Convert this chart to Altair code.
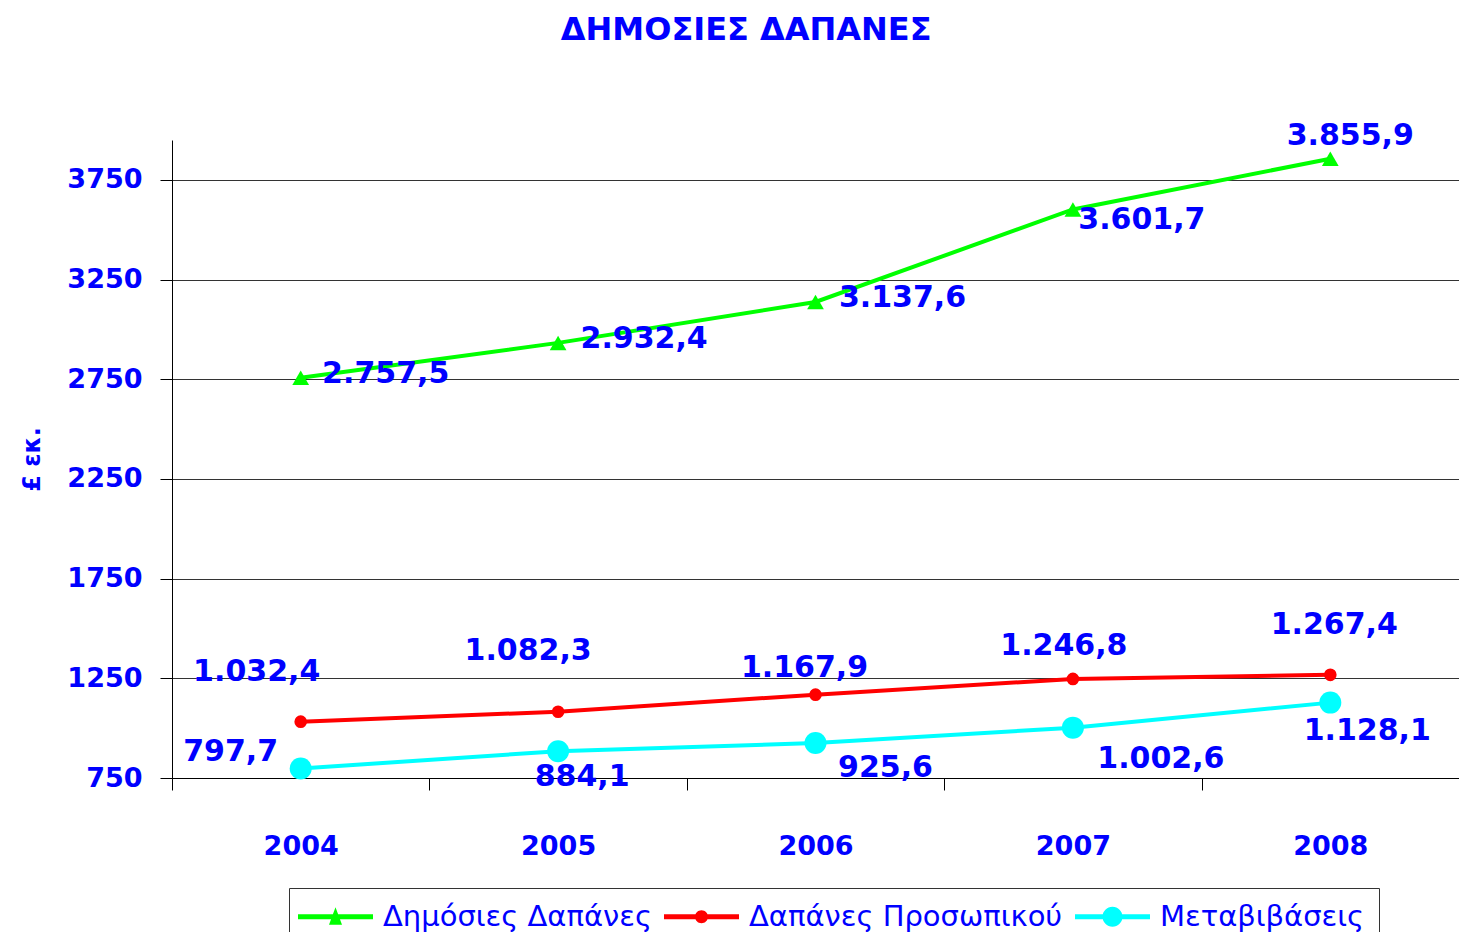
import altair as alt
import pandas as pd

# ---- data ----
years = ["2004", "2005", "2006", "2007", "2008"]
series = ["Δημόσιες Δαπάνες", "Δαπάνες Προσωπικού", "Μεταβιβάσεις"]
public_spending = [2757.5, 2932.4, 3137.6, 3601.7, 3855.9]
staff_spending = [1032.4, 1082.3, 1167.9, 1246.8, 1267.4]
transfers = [797.7, 884.1, 925.6, 1002.6, 1128.1]
y_ticks = [750, 1250, 1750, 2250, 2750, 3250, 3750]
colors = ["#00FF00", "#FF0000", "#00FFFF"]

# label placement (pixel offsets of each value label from its point)
label_dx = {
    series[0]: [85, 86, 87, 69, 20],
    series[1]: [-44, -30, -11, -9, 4],
    series[2]: [-70, 24, 70, 88, 37],
}
label_dy = {
    series[0]: [-4, -4, -4, 11, -23],
    series[1]: [-50, -61, -27, -33, -50],
    series[2]: [-16, 26, 25, 31, 28],
}

BLUE = "#0000FF"
FONT = "DejaVu Sans"


def fmt(v):
    s = f"{v:,.1f}"
    return s.replace(",", "#").replace(".", ",").replace("#", ".")


rows = []
for name, vals in zip(series, [public_spending, staff_spending, transfers]):
    for yr, v in zip(years, vals):
        rows.append({"year": yr, "series": name, "value": v, "label": fmt(v)})
df = pd.DataFrame(rows)

x_enc = alt.X(
    "year:O",
    scale=alt.Scale(type="band", domain=years, paddingInner=0, paddingOuter=0),
    axis=alt.Axis(
        title=None,
        labelAngle=0,
        labelFont=FONT,
        labelFontSize=27,
        labelFontWeight="bold",
        labelColor=BLUE,
        labelPadding=43,
        tickBand="extent",
        tickSize=12,
        tickColor="#000000",
        domainColor="#000000",
        grid=False,
    ),
)
y_enc = alt.Y(
    "value:Q",
    scale=alt.Scale(domain=[750, 3950], nice=False, zero=False),
    axis=alt.Axis(
        title="£ εκ.",
        titleFont=FONT,
        titleFontSize=24,
        titleFontWeight="bold",
        titleColor=BLUE,
        titlePadding=22,
        values=y_ticks,
        format="d",
        labelFont=FONT,
        labelFontSize=27,
        labelFontWeight="bold",
        labelColor=BLUE,
        labelPadding=18,
        tickSize=12,
        tickColor="#000000",
        domainColor="#000000",
        gridColor="#333333",
        gridWidth=1,
    ),
)

base = alt.Chart(df)

point_specs = [("triangle-up", 280), ("circle", 160), ("circle", 484)]

line_layers = []
point_layers = []
for name, col, (shape, size) in zip(series, colors, point_specs):
    sub = base.transform_filter(alt.datum.series == name)
    line_layers.append(sub.mark_line(strokeWidth=4, color=col).encode(x=x_enc, y=y_enc))
    point_layers.append(
        sub.mark_point(shape=shape, size=size, filled=True, opacity=1, color=col).encode(
            x=x_enc, y=y_enc
        )
    )

text_layers = []
for name in series:
    for i, yr in enumerate(years):
        text_layers.append(
            base.transform_filter((alt.datum.series == name) & (alt.datum.year == yr))
            .mark_text(
                font=FONT,
                fontSize=30,
                fontWeight="bold",
                color=BLUE,
                dx=label_dx[name][i],
                dy=label_dy[name][i],
                align="center",
                baseline="middle",
            )
            .encode(x=x_enc, y=y_enc, text="label:N")
        )

# legend symbols: a line segment with the series marker (all sub-paths clockwise)
line_part = "M-3.75,-0.25H3.75V0.25H-3.75Z"
legend_paths = [
    line_part + "M0,-0.95L0.65,0.8H-0.65Z",
    line_part + "M-0.65,0A0.65,0.65 0 1,1 0.65,0A0.65,0.65 0 1,1 -0.65,0Z",
    line_part + "M-1,0A1,1 0 1,1 1,0A1,1 0 1,1 -1,0Z",
]
legend_props = dict(
    title=None,
    orient="none",
    legendX=117,
    legendY=748,
    direction="horizontal",
    labelFont=FONT,
    labelFontSize=29,
    labelColor=BLUE,
    labelOffset=33,
    labelLimit=400,
    symbolSize=400,
    symbolOffset=18,
    symbolStrokeWidth=0,
    symbolOpacity=1,
    columnPadding=12,
    padding=14,
    strokeColor="#333333",
    fillColor="#FFFFFF",
)
legend_layer = base.mark_point(filled=True, opacity=0).encode(
    x=x_enc,
    y=y_enc,
    color=alt.Color(
        "series:N",
        scale=alt.Scale(domain=series, range=colors),
        legend=alt.Legend(**legend_props),
    ),
    shape=alt.Shape(
        "series:N",
        scale=alt.Scale(domain=series, range=legend_paths),
        legend=alt.Legend(**legend_props),
    ),
)

chart = (
    alt.layer(*line_layers, *point_layers, *text_layers, legend_layer)
    .properties(
        width=1287,
        height=638,
        background="white",
        autosize=alt.AutoSizeParams(type="none"),
        title=alt.TitleParams(
            "ΔΗΜΟΣΙΕΣ ΔΑΠΑΝΕΣ",
            font=FONT,
            fontSize=32,
            fontWeight="bold",
            color=BLUE,
            anchor="middle",
            frame="bounds",
            offset=74,
            dx=6,
        ),
        padding={"left": 164, "top": 132, "right": 0, "bottom": 154},
    )
    .configure_view(strokeWidth=0, stroke="transparent")
)

chart.save("out.html", embed_options={"renderer": "svg", "actions": False})
